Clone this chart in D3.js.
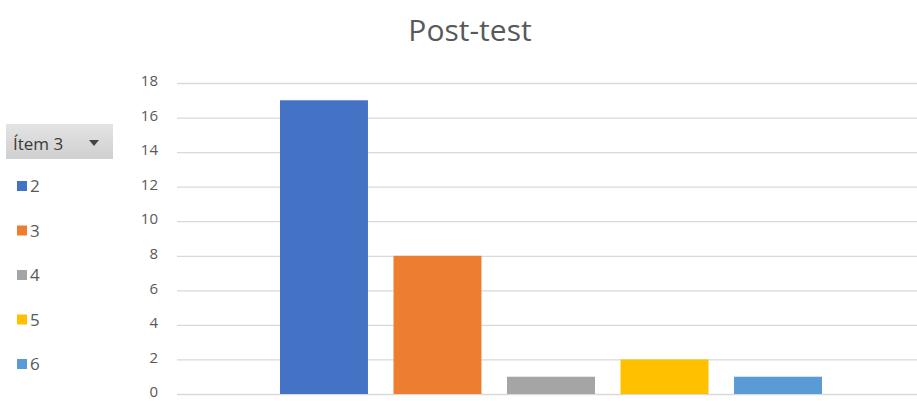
<!DOCTYPE html>
<html>
<head>
<meta charset="utf-8">
<script src="https://cdn.jsdelivr.net/npm/d3@7"></script>
<style>
  body { margin: 0; background: #fff; }
  text { font-family: "Open Sans", "Noto Sans", sans-serif; }
</style>
</head>
<body>
<div id="chart"></div>
<script>
const categories = ["Total"]
const series = ["2", "3", "4", "5", "6"]
const values = [17, 8, 1, 2, 1]
const colors = ["#4472C4", "#ED7D31", "#A5A5A5", "#FFC000", "#5B9BD5"]
const yTicks = [0, 2, 4, 6, 8, 10, 12, 14, 16, 18]

function drawChart() {
   const width = 917,
         height = 401
   const plot = {left: 177, right: 925, top: 83, bottom: 394}

   const svg = d3.select("#chart")
                 .append("svg")
                 .attr("width", width)
                 .attr("height", height)

   const yScale = d3.scaleLinear()
                    .domain([0, 18])
                    .range([plot.bottom, plot.top])

   const x0 = d3.scaleBand()
                .domain(categories)
                .range([plot.left, plot.right])
                .paddingInner(0)
                .paddingOuter(0.19)

   const x1 = d3.scaleBand()
                .domain(series)
                .range([0, x0.bandwidth()])
                .paddingInner(0.225)
                .paddingOuter(0)

   // gridlines
   svg.append("g")
      .selectAll("line")
      .data(yTicks)
      .enter()
      .append("line")
      .attr("x1", plot.left)
      .attr("x2", width)
      .attr("y1", d => yScale(d) + 0.5)
      .attr("y2", d => yScale(d) + 0.5)
      .attr("stroke", "#d9d9d9")
      .attr("stroke-width", 1.3)

   // y axis labels
   const yAxis = d3.axisLeft(yScale)
                   .tickValues(yTicks)
                   .tickSize(0)
                   .tickPadding(0)
   const yg = svg.append("g")
                 .attr("transform", "translate(158, -1)")
                 .call(yAxis)
   yg.select(".domain").remove()
   yg.selectAll("text")
     .attr("font-size", 15)
     .attr("dy", "0.25em")
     .attr("fill", "#595959")
     .attr("font-family", "'Open Sans', sans-serif")

   // bars
   svg.append("g")
      .selectAll("rect")
      .data(series)
      .enter()
      .append("rect")
      .attr("x", d => x0("Total") + x1(d))
      .attr("y", (d, i) => yScale(values[i]))
      .attr("width", x1.bandwidth())
      .attr("height", (d, i) => yScale(0) - yScale(values[i]))
      .attr("fill", (d, i) => colors[i])

   // title
   svg.append("text")
      .attr("x", 470)
      .attr("y", 41)
      .attr("text-anchor", "middle")
      .attr("font-size", 30)
      .attr("fill", "#595959")
      .text("Post-test")

   // legend header (pivot field button)
   const defs = svg.append("defs")
   const grad = defs.append("linearGradient")
                    .attr("id", "hdr")
                    .attr("x1", 0).attr("y1", 0)
                    .attr("x2", 0).attr("y2", 1)
   grad.append("stop").attr("offset", "0%").attr("stop-color", "#e4e4e4")
   grad.append("stop").attr("offset", "100%").attr("stop-color", "#cfcfcf")

   const hdr = svg.append("g")
   hdr.append("rect")
      .attr("x", 6).attr("y", 124)
      .attr("width", 107).attr("height", 35)
      .attr("fill", "url(#hdr)")
   hdr.append("text")
      .attr("x", 13).attr("y", 150)
      .attr("font-size", 17)
      .attr("fill", "#3a3a3a")
      .text("Ítem 3")
   hdr.append("path")
      .attr("d", "M89,140 L99,140 L94,146 Z")
      .attr("fill", "#444")

   // legend items
   const legendY = d3.scalePoint()
                     .domain(series)
                     .range([186, 364])

   const items = svg.append("g")
                    .selectAll("g")
                    .data(series)
                    .enter()
                    .append("g")
                    .attr("transform", d => "translate(0," + legendY(d) + ")")
   items.append("rect")
        .attr("x", 17).attr("y", -5)
        .attr("width", 10).attr("height", 10)
        .attr("fill", (d, i) => colors[i])
   items.append("text")
        .attr("x", 30).attr("y", 6)
        .attr("font-size", 17)
        .attr("fill", "#595959")
        .text(d => d)
}

drawChart()
</script>
</body>
</html>
